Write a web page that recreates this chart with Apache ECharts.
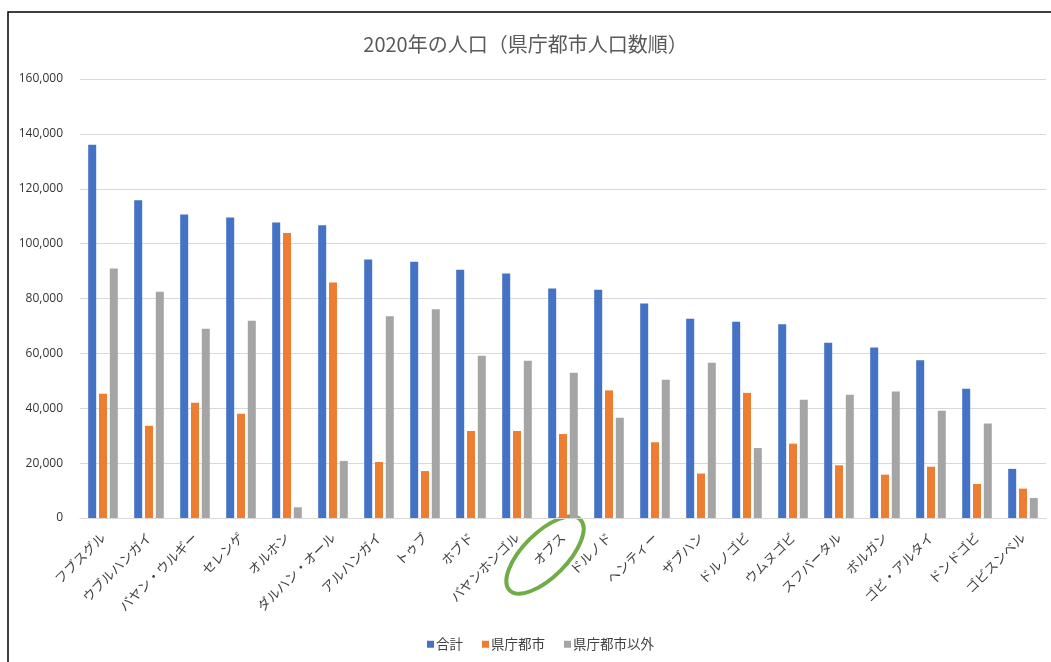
<!DOCTYPE html>
<html>
<head>
<meta charset="utf-8">
<script src="https://cdn.jsdelivr.net/npm/echarts@6/dist/echarts.min.js"></script>
<style>
  html, body { margin: 0; padding: 0; background: #fff; }
  #chart { width: 1051px; height: 662px; }
</style>
</head>
<body>
<div id="chart"></div>
<script>
const prefectures = [
  'フブスグル', 'ウブルハンガイ', 'バヤン・ウルギー', 'セレンゲ', 'オルホン',
  'ダルハン・オール', 'アルハンガイ', 'トゥブ', 'ホブド', 'バヤンホンゴル',
  'オブス', 'ドルノド', 'ヘンティー', 'ザブハン', 'ドルノゴビ',
  'ウムヌゴビ', 'スフバータル', 'ボルガン', 'ゴビ・アルタイ', 'ドンドゴビ', 'ゴビスンベル'
]
const total = [
  136000, 115800, 110600, 109500, 107700, 106700, 94200, 93400, 90500, 89100,
  83600, 83200, 78200, 72600, 71500, 70600, 63900, 62100, 57500, 47100, 17900
]
const capital = [
  45300, 33600, 42000, 38000, 103900, 85800, 20400, 17100, 31700, 31700,
  30600, 46500, 27600, 16200, 45600, 27100, 19200, 15800, 18700, 12400, 10700
]
const others = [
  90900, 82500, 69000, 71900, 3900, 20800, 73500, 76100, 59100, 57300,
  52900, 36500, 50400, 56600, 25500, 43100, 44900, 46100, 39100, 34400, 7300
]
const seriesNames = ['合計', '県庁都市', '県庁都市以外']
const colors = ['#4472C4', '#ED7D31', '#A5A5A5']
const circled = 'オブス'

const jpFont = '"Noto Sans CJK JP", "Noto Sans", sans-serif'

const chart = echarts.init(document.getElementById('chart'))

function barSeries(name, data, color) {
  return {
    name,
    type: 'bar',
    data,
    barWidth: 8,
    barGap: '35%',
    itemStyle: { color },
  }
}

const opts = {
  animation: false,
  color: colors,
  title: {
    text: '2020年の人口（県庁都市人口数順）',
    left: 'center',
    top: 29,
    textStyle: {
      fontFamily: jpFont,
      fontSize: 20,
      fontWeight: 'normal',
      color: '#595959',
    },
  },
  legend: {
    bottom: 6,
    left: 422,
    icon: 'rect',
    itemWidth: 7,
    itemHeight: 7,
    itemGap: 19,
    textStyle: {
      fontFamily: jpFont,
      fontSize: 13.5,
      color: '#404040',
      padding: [0, 0, 0, -3],
    },
    data: seriesNames,
  },
  grid: {
    left: 80,
    right: 5,
    top: 79,
    bottom: 144,
  },
  xAxis: {
    type: 'category',
    data: prefectures,
    axisTick: { show: false },
    axisLine: { lineStyle: { color: '#d9d9d9' } },
    axisLabel: {
      interval: 0,
      rotate: 45,
      margin: 17,
      fontFamily: jpFont,
      fontSize: 13,
      color: '#404040',
    },
  },
  yAxis: {
    type: 'value',
    min: 0,
    max: 160000,
    interval: 20000,
    axisLine: { show: false },
    axisTick: { show: false },
    splitLine: { lineStyle: { color: '#d9d9d9' } },
    axisLabel: {
      margin: 17,
      fontFamily: '"Open Sans", sans-serif',
      fontSize: 12,
      color: '#333333',
      formatter: v => v.toLocaleString('en-US'),
    },
  },
  series: [
    barSeries(seriesNames[0], total, colors[0]),
    barSeries(seriesNames[1], capital, colors[1]),
    barSeries(seriesNames[2], others, colors[2]),
  ],
}

chart.setOption(opts)

// frame of the pasted chart and the green hand-drawn circle around one label
const cx = chart.convertToPixel({ xAxisIndex: 0 }, circled)
const y0 = chart.convertToPixel({ yAxisIndex: 0 }, 0)
chart.setOption({
  graphic: [
    {
      type: 'rect',
      shape: { x: 8, y: 12, width: 1100, height: 700 },
      style: { fill: 'none', stroke: '#000', lineWidth: 1.5 },
    },
    {
      type: 'ellipse',
      x: cx - 18,
      y: y0 + 37,
      rotation: Math.PI / 4,
      shape: { cx: 0, cy: 0, rx: 50, ry: 22 },
      style: { fill: 'none', stroke: '#70AD47', lineWidth: 4 },
    },
  ],
})
</script>
</body>
</html>
